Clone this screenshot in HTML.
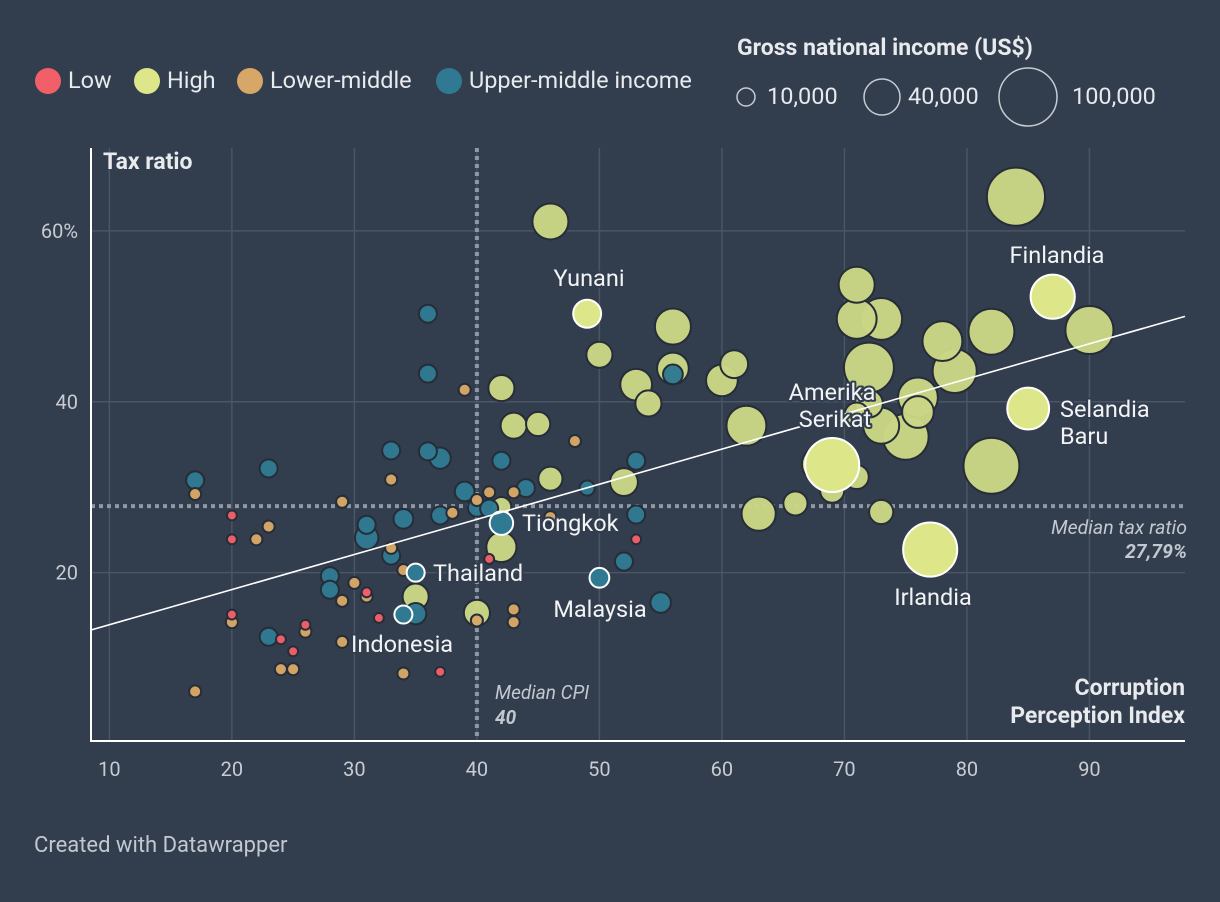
<!DOCTYPE html>
<html><head><meta charset="utf-8">
<style>
html,body{margin:0;padding:0;background:#323d4d;}
svg{display:block;font-family:"Roboto","Liberation Sans",sans-serif;}
</style></head>
<body>
<svg id="chart" width="1220" height="902" viewBox="0 0 1220 902">
<rect width="1220" height="902" fill="#323d4d"/>
<g id="legend">
 <g><circle cx="48" cy="81" r="13" fill="#f25f69"/><text x="68" y="88" fill="#e8eaed" font-size="23.5">Low</text></g>
 <g><circle cx="147" cy="81" r="13" fill="#dde78a"/><text x="167" y="88" fill="#e8eaed" font-size="23.5">High</text></g>
 <g><circle cx="250" cy="81" r="13" fill="#d7a767"/><text x="270" y="88" fill="#e8eaed" font-size="23.5">Lower-middle</text></g>
 <g><circle cx="449" cy="81" r="13" fill="#2f7a92"/><text x="469" y="88" fill="#e8eaed" font-size="23.5">Upper-middle income</text></g>
</g>
<g>
 <text x="737" y="55" fill="#e8eaed" font-size="23" font-weight="bold">Gross national income (US$)</text>
 <circle cx="746" cy="97" r="9" fill="none" stroke="#c8ccd2" stroke-width="1.5"/>
 <text x="767" y="104" fill="#e8eaed" font-size="23.5">10,000</text>
 <circle cx="882" cy="97" r="18" fill="none" stroke="#c8ccd2" stroke-width="1.5"/>
 <text x="908" y="104" fill="#e8eaed" font-size="23.5">40,000</text>
 <circle cx="1028" cy="97" r="29" fill="none" stroke="#c8ccd2" stroke-width="1.5"/>
 <text x="1072" y="104" fill="#e8eaed" font-size="23.5">100,000</text>
</g>
<g id="grid"></g>
<g id="medians"></g>
<g id="points"></g>
<g id="trend"></g>
<g id="labels"></g>
<g id="axes"></g>
<text x="103" y="169" fill="#e8eaed" font-size="23" font-weight="bold">Tax ratio</text>
<text x="1185" y="695" fill="#e8eaed" font-size="23" font-weight="bold" text-anchor="end">Corruption</text>
<text x="1185" y="723" fill="#e8eaed" font-size="23" font-weight="bold" text-anchor="end">Perception Index</text>
<text x="495" y="699" fill="#c2c8d0" font-size="19" font-style="italic">Median CPI</text>
<text x="495" y="724" fill="#c2c8d0" font-size="19" font-style="italic" font-weight="bold">40</text>
<text x="1187" y="534" fill="#c2c8d0" font-size="19.5" font-style="italic" text-anchor="end">Median tax ratio</text>
<text x="1187" y="558" fill="#c2c8d0" font-size="19.5" font-style="italic" font-weight="bold" text-anchor="end">27,79%</text>
<text x="34" y="852" fill="#c2c8d0" font-size="22">Created with Datawrapper</text>
</svg>
<script>
const xTicks = [10,20,30,40,50,60,70,80,90];
const yTicks = [20,40,60];
const yTickLabels = ["20","40","60%"];
const medianCPI = 40;
const medianTax = 27.79;
const trendIntercept = 9.8;
const trendSlope = 0.411;
const groupColors = {L:"#f25f69",H:"#cad685",LM:"#d7a767",UM:"#2f7a92"};
const cpi = [20,20,20,24,25,26,31,32,37,41,53,
17,17,22,23,20,24,25,26,29,29,29,30,31,33,33,34,34,39,38,40,40,41,43,43,43,46,48,
17,23,23,28,28,31,31,33,33,34,34,35,35,36,36,36,37,37,39,40,42,42,44,49,50,52,53,53,55,56,41,
46,49,50,53,54,56,56,60,61,62,63,66,42,43,45,46,52,42,40,35,42,71,71,73,72,78,79,82,84,87,90,85,77,82,76,76,75,73,72,69,68,70,71,69,73,71];
const tax = [26.7,23.9,15.1,12.2,10.8,13.9,17.7,14.7,8.4,21.6,23.9,
29.2,6.1,23.9,25.4,14.2,8.7,8.7,13.1,28.3,16.7,11.9,18.8,17.2,30.9,22.9,20.3,8.2,41.4,27.0,14.4,28.5,29.4,29.4,15.7,14.2,26.5,35.4,
30.8,32.2,12.5,19.6,18.0,25.6,24.1,34.3,22.0,26.3,15.1,15.2,20.0,50.3,43.3,34.2,33.4,26.7,29.5,27.6,33.1,25.8,29.9,29.9,19.4,21.3,33.1,26.8,16.5,43.2,27.5,
61.1,50.3,45.5,42.0,39.8,48.8,43.9,42.5,44.4,37.2,26.9,28.1,41.6,37.2,37.4,31.0,30.6,23.0,15.3,17.2,27.7,53.7,49.7,49.7,44.0,47.1,43.6,48.2,64.0,52.3,48.4,39.2,22.7,32.5,40.5,38.8,35.9,37.2,39.8,32.6,32.7,31.8,31.2,29.6,27.1,38.5];
const group = [].concat(Array(11).fill("L"),Array(27).fill("LM"),Array(31).fill("UM"),Array(46).fill("H"));
const gni = [3,3,3,3,3,3,3,3,3,3,3,
4.5,4.5,4.5,4.5,4.5,4.5,4.5,4.5,4.5,4.5,4.5,4.5,4.5,4.5,4.5,4.5,4.5,4.5,4.5,4.5,4.5,4.5,4.5,4.5,4.5,4.5,4.5,
10,10,10,10,10,10,17,10,10,12,10,14,10,10,10,10,14,10,12,10,10,17,10,7,12,10,10,10,13,12,10,
40,24,21,31,21,40,31,31,24,49,36,18,21,21,18,18,24,28,21,21,12,40,49,54,77,49,60,65,104,60,71,54,90,96,49,31,65,40,24,90,40,31,18,18,18,18];
const highlighted = {"Indonesia":48,"Thailand":50,"Tiongkok":59,"Malaysia":62,"Yunani":70,"Finlandia":98,"Selandia Baru":100,"Irlandia":101,"Amerika Serikat":108};

const X0=8.5,X1=97.8,PX0=91,PX1=1185, Y0=0.3,Y1=69.7,PY0=741,PY1=148;
const sx=v=>PX0+(v-X0)/(X1-X0)*(PX1-PX0);
const sy=v=>PY0-(v-Y0)/(Y1-Y0)*(PY0-PY1);
const rr=g=>2.85*Math.sqrt(g);
const NS="http://www.w3.org/2000/svg";
function mk(tag,attrs,parent){const e=document.createElementNS(NS,tag);for(const k in attrs)e.setAttribute(k,attrs[k]);parent.appendChild(e);return e;}
const grid=document.getElementById('grid'), axes=document.getElementById('axes');
xTicks.forEach(t=>{
 const l=mk('line',{x1:sx(t),x2:sx(t),y1:PY1,y2:PY0,stroke:"#4a5565","stroke-width":1.5},grid);
 
 
 const tx=mk('text',{x:sx(t),y:776,fill:"#c8ccd2","font-size":20,"text-anchor":"middle"},axes);tx.textContent=t;
 
 
});
yTicks.forEach((t,i)=>{
 const l=mk('line',{x1:PX0,x2:PX1,y1:sy(t),y2:sy(t),stroke:"#4a5565","stroke-width":1.5},grid);
 
 
 const tx=mk('text',{x:78,y:sy(t)+7,fill:"#c8ccd2","font-size":20,"text-anchor":"end"},axes);tx.textContent=yTickLabels[i];
 
 
});
const ax=mk('line',{x1:PX0,x2:PX0,y1:PY1,y2:PY0+1,stroke:"#ffffff","stroke-width":2},axes);


const bx=mk('line',{x1:PX0-1,x2:PX1,y1:PY0,y2:PY0,stroke:"#ffffff","stroke-width":2},axes);


const med=document.getElementById('medians');
const mv=mk('line',{x1:sx(medianCPI),x2:sx(medianCPI),y1:PY1,y2:PY0,stroke:"#8d98a4","stroke-width":4,"stroke-dasharray":"4 4"},med);


const mh=mk('line',{x1:PX0,x2:PX1,y1:sy(medianTax),y2:sy(medianTax),stroke:"#8d98a4","stroke-width":4,"stroke-dasharray":"4 4"},med);



const pts=document.getElementById('points');
const hiSet=new Set(Object.values(highlighted));
const order=cpi.map((_,i)=>i).sort((a,b)=>gni[b]-gni[a]);
order.forEach(i=>{
 if(hiSet.has(i))return;
 const c=mk('circle',{cx:sx(cpi[i]),cy:sy(tax[i]),r:rr(gni[i]),fill:groupColors[group[i]],stroke:"#262d38","stroke-width":2,"fill-opacity":0.97},pts);
 
 
});
const tr=document.getElementById('trend');
const tl=mk('line',{x1:PX0,y1:sy(trendIntercept+trendSlope*X0),x2:PX1,y2:sy(trendIntercept+trendSlope*X1),stroke:"#ffffff","stroke-width":1.6},tr);


Object.keys(highlighted).forEach(n=>{
 const i=highlighted[n];
 const fill=group[i]==="H"?"#dde78a":groupColors[group[i]];
 const c=mk('circle',{cx:sx(cpi[i]),cy:sy(tax[i]),r:rr(gni[i]),fill:fill,stroke:"#ffffff","stroke-width":2},pts);
 
 
});
const lab=document.getElementById('labels');
const labelDefs=[["Yunani",589,286,"middle"],["Finlandia",1057,263,"middle"],["Amerika",832,400,"middle"],["Serikat",835,427,"middle"],["Selandia",1060,417,"start"],["Baru",1060,444,"start"],["Tiongkok",522,531,"start"],["Thailand",433,581,"start"],["Malaysia",600,617,"middle"],["Indonesia",351,652,"start"],["Irlandia",933,605,"middle"]];
labelDefs.forEach(d=>{
 const t=mk('text',{x:d[1],y:d[2],"text-anchor":d[3],fill:"#f2f3f5","font-size":23.5,stroke:"#323d4d","stroke-width":4,"paint-order":"stroke","stroke-linejoin":"round"},lab);
 t.textContent=d[0];
 
 
});
</script>
</body></html>
